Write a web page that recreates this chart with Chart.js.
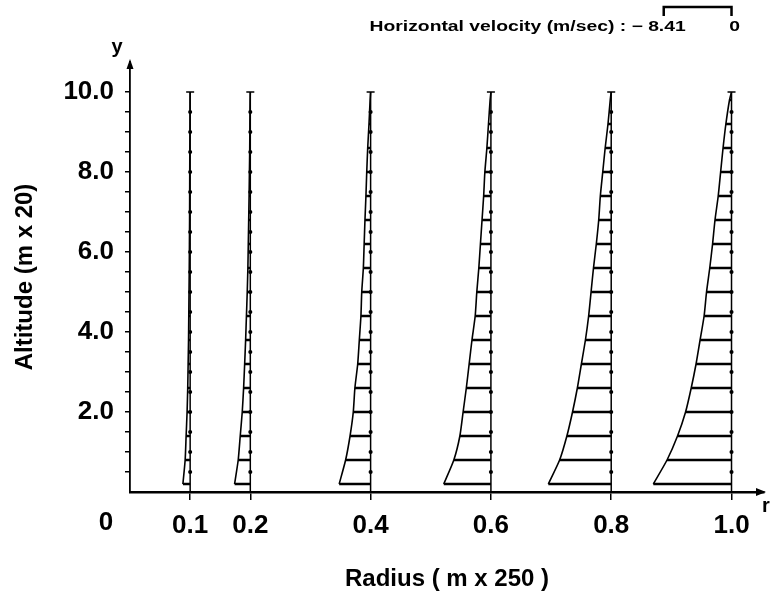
<!DOCTYPE html>
<html>
<head>
<meta charset="utf-8">
<script src="https://cdn.jsdelivr.net/npm/chart.js@4.4.0/dist/chart.umd.min.js"></script>
<style>
  html, body { margin: 0; padding: 0; background: #fff; }
  #wrap { width: 771px; height: 599px; }
</style>
</head>
<body>
<div id="wrap"><canvas id="profiles" width="771" height="599"></canvas></div>
<script>
// radial stations (r, units of 250 m)
const radii = [0.1, 0.2, 0.4, 0.6, 0.8, 1.0]
// altitudes of the computed levels (units of 20 m)
const levels = [0.2, 0.8, 1.4, 2.0, 2.6, 3.2, 3.8, 4.4, 5.0, 5.6, 6.2, 6.8, 7.4, 8.0, 8.6, 9.2, 9.8]

// horizontal velocity (m/sec) at each level, negative = inflow
const u01 = [-0.9, -0.62, -0.5, -0.38, -0.3, -0.25, -0.2, -0.17, -0.14, -0.11, -0.09, -0.07, -0.06, -0.05, -0.04, -0.02, -0.01]
const u02 = [-1.95, -1.5, -1.25, -1.0, -0.83, -0.7, -0.58, -0.48, -0.38, -0.3, -0.25, -0.2, -0.15, -0.11, -0.07, -0.05, -0.02]
const u04 = [-3.9, -3.1, -2.55, -2.15, -1.95, -1.6, -1.4, -1.2, -1.1, -0.9, -0.8, -0.7, -0.58, -0.48, -0.36, -0.2, -0.06]
const u06 = [-5.85, -4.6, -3.85, -3.45, -3.05, -2.7, -2.35, -1.95, -1.75, -1.5, -1.3, -1.1, -0.9, -0.75, -0.5, -0.3, -0.1]
const u08 = [-7.8, -6.4, -5.5, -4.8, -4.2, -3.7, -3.2, -2.8, -2.5, -2.2, -1.85, -1.55, -1.35, -1.05, -0.75, -0.4, -0.12]
const u10 = [-9.7, -8.0, -6.7, -5.7, -5.0, -4.4, -3.9, -3.4, -3.1, -2.7, -2.35, -2.05, -1.65, -1.35, -1.05, -0.7, -0.25]

// altitude ticks and the ones that get a label
const altTicks = [0.5, 1.0, 1.5, 2.0, 2.5, 3.0, 3.5, 4.0, 4.5, 5.0, 5.5, 6.0, 6.5, 7.0, 7.5, 8.0, 8.5, 9.0, 9.5, 10.0]
const altLabels = [2, 4, 6, 8, 10]

// velocity scale bar, m/sec
const velBar = [-8.41, 0]
// r units per m/sec when a velocity is laid off from its station
const VEL_TO_R = 0.0134

const profiles = [[radii[0], u01], [radii[1], u02], [radii[2], u04], [radii[3], u06], [radii[4], u08], [radii[5], u10]]

const FONT = '"Liberation Sans", Arial, sans-serif'

let datasets = []
profiles.forEach(([r, u]) => {
  let edge = u.map((v, i) => ({x: r + v * VEL_TO_R, y: levels[i]}))

  // station line with a dot at every altitude tick
  datasets.push({
    data: [{x: r, y: 0}].concat(altTicks.map(y => ({x: r, y: y}))),
    showLine: true,
    borderColor: '#000',
    borderWidth: 1.5,
    pointBackgroundColor: '#000',
    pointBorderColor: '#000',
    pointBorderWidth: 1.5,
    pointStyle: c => (c.raw && c.raw.y === 10) ? 'line' : 'circle',
    pointRadius: c => c.dataIndex === 0 ? 0 : (c.raw.y === 10 ? 4 : 1.3)
  })

  // profile envelope
  datasets.push({
    data: edge.concat([{x: r, y: 10}]),
    showLine: true,
    borderColor: '#000',
    borderWidth: 1.6,
    tension: 0.2,
    pointRadius: 0
  })

  // velocity vectors at each level
  let rungs = []
  edge.forEach(p => {
    rungs.push({x: p.x, y: p.y}, {x: r, y: p.y}, {x: r, y: null})
  })
  datasets.push({
    data: rungs,
    showLine: true,
    spanGaps: false,
    borderColor: '#000',
    borderWidth: 2.6,
    pointRadius: 0
  })
})

const annotate = {
  id: 'annotate',
  afterDraw(chart) {
    const ctx = chart.ctx
    const xs = chart.scales.x
    const ys = chart.scales.y
    const x0 = xs.getPixelForValue(0)
    const y0 = ys.getPixelForValue(0)
    const xEnd = chart.chartArea.right
    const yTop = chart.chartArea.top
    ctx.save()
    ctx.fillStyle = '#000'
    ctx.strokeStyle = '#000'

    // arrow heads
    ctx.beginPath()
    ctx.moveTo(xEnd + 2, y0)
    ctx.lineTo(xEnd - 8, y0 - 4)
    ctx.lineTo(xEnd - 8, y0 + 4)
    ctx.closePath()
    ctx.fill()
    ctx.beginPath()
    ctx.moveTo(x0, yTop - 3)
    ctx.lineTo(x0 - 3.5, yTop + 7)
    ctx.lineTo(x0 + 3.5, yTop + 7)
    ctx.closePath()
    ctx.fill()

    // origin and axis letters
    ctx.textAlign = 'center'
    ctx.textBaseline = 'middle'
    ctx.font = 'bold 26px ' + FONT
    ctx.fillText('0', x0 - 24, y0 + 31)
    ctx.font = 'bold 20px ' + FONT
    ctx.fillText('y', x0 - 13, yTop - 15)
    ctx.textAlign = 'left'
    ctx.fillText('r', xEnd - 2, y0 + 14)

    // velocity scale bar over the r = 1.0 station
    const bx0 = xs.getPixelForValue(1.0 + velBar[0] * VEL_TO_R)
    const bx1 = xs.getPixelForValue(1.0 + velBar[1] * VEL_TO_R)
    ctx.lineWidth = 2.5
    ctx.beginPath()
    ctx.moveTo(bx0, 16)
    ctx.lineTo(bx0, 7)
    ctx.lineTo(bx1, 7)
    ctx.lineTo(bx1, 16)
    ctx.stroke()

    // wide heavy caption, stretched sideways like the plotter lettering
    ctx.font = 'bold 14px ' + FONT
    ctx.save()
    ctx.translate(bx0 + 22, 27)
    ctx.scale(1.38, 1)
    ctx.textAlign = 'right'
    ctx.fillText('Horizontal velocity (m/sec) : \u2212 ' + Math.abs(velBar[0]).toFixed(2), 0, 0)
    ctx.restore()
    ctx.save()
    ctx.translate(bx1 + 3, 27)
    ctx.scale(1.38, 1)
    ctx.textAlign = 'center'
    ctx.fillText(String(velBar[1]), 0, 0)
    ctx.restore()
    ctx.restore()
  }
}

new Chart(document.getElementById('profiles'), {
  type: 'scatter',
  data: {datasets: datasets},
  plugins: [annotate],
  options: {
    responsive: false,
    animation: false,
    layout: {padding: {top: 62, right: 7, bottom: 0, left: 0}},
    plugins: {legend: {display: false}, tooltip: {enabled: false}},
    scales: {
      x: {
        type: 'linear',
        min: 0,
        max: 1.054,
        afterFit: s => { s.height = 107 },
        afterBuildTicks: s => { s.ticks = radii.map(v => ({value: v})) },
        border: {display: true, color: '#000', width: 2.5},
        grid: {drawOnChartArea: false, drawTicks: true, tickLength: 8, tickColor: '#000', lineWidth: 1.5},
        ticks: {
          autoSkip: false,
          maxRotation: 0,
          padding: 10,
          color: '#000',
          font: {family: FONT, size: 26, weight: 'bold'},
          callback: v => v.toFixed(1)
        },
        title: {
          display: true,
          text: 'Radius ( m x 250 )',
          color: '#000',
          font: {family: FONT, size: 24, weight: 'bold'},
          padding: {top: 0, bottom: 5}
        }
      },
      y: {
        type: 'linear',
        min: 0,
        max: 10.75,
        afterFit: s => { s.width = 130 },
        afterBuildTicks: s => { s.ticks = altTicks.map(v => ({value: v})) },
        border: {display: true, color: '#000', width: 1.8},
        grid: {drawOnChartArea: false, drawTicks: true, tickLength: 5, tickColor: '#000', lineWidth: 1.5},
        ticks: {
          autoSkip: false,
          padding: 11,
          color: '#000',
          font: {family: FONT, size: 26, weight: 'bold'},
          callback: v => altLabels.includes(v) ? v.toFixed(1) : ''
        },
        title: {
          display: true,
          text: 'Altitude (m x 20)',
          color: '#000',
          font: {family: FONT, size: 24, weight: 'bold'},
          padding: {top: 11, bottom: 0}
        }
      }
    }
  }
})
</script>
</body>
</html>
